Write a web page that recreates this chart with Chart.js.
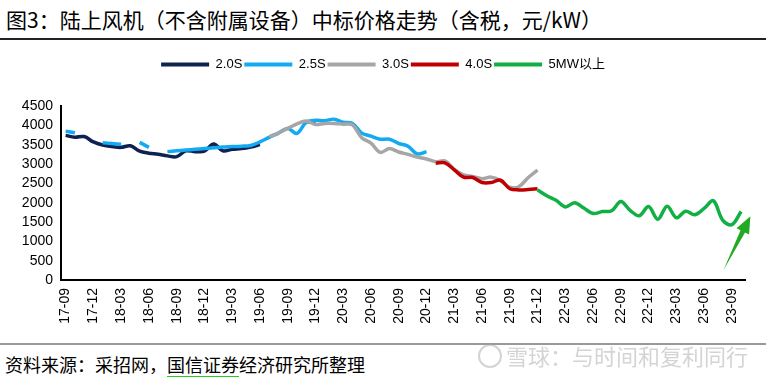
<!DOCTYPE html>
<html>
<head>
<meta charset="utf-8">
<script src="https://cdn.jsdelivr.net/npm/chart.js@4.4.1/dist/chart.umd.min.js"></script>
<style>
  body { margin: 0; width: 766px; height: 379px; background: #fff; position: relative; overflow: hidden; font-family: 'Noto Sans CJK SC', sans-serif; }
  #title { position: absolute; left: 6px; top: 5px; font-size: 21px; line-height: 28px; color: #000; white-space: nowrap; }
  #topline { position: absolute; left: 0; top: 38px; width: 766px; height: 2px; background: #222; }
  #wrap { position: absolute; left: 0; top: 45px; width: 766px; height: 295px; }
  #bottomline { position: absolute; left: 0; top: 343px; width: 766px; height: 2px; background: #999; }
  #source { position: absolute; left: 5px; top: 352px; font-size: 18px; line-height: 24px; color: #000; white-space: nowrap; }
  #source .sp { text-decoration: underline solid #22cc22; text-decoration-thickness: 1px; text-underline-offset: 4px; }
  #wm { position: absolute; left: 478px; top: 340px; font-size: 22px; line-height: 30px; color: rgba(170,170,170,0.5); white-space: nowrap; }
  #wm .logo { display: inline-block; width: 20px; height: 20px; border: 2px solid rgba(170,170,170,0.5); border-radius: 50%; vertical-align: -3px; margin-right: 4px; }
</style>
</head>
<body>
<div id="title">图3：陆上风机（不含附属设备）中标价格走势（含税，元/kW）</div>
<div id="topline"></div>
<div id="wrap"><canvas id="grafik" width="766" height="295"></canvas></div>
<div id="bottomline"></div>
<div id="wm"><span class="logo"></span>雪球：与时间和复利同行</div>
<div id="source">资料来源：采招网，<span class="sp">国信证券</span>经济研究所整理</div>
<script>
// 月份（17-09 ~ 23-10）
const months = [
  '17-09','17-10','17-11','17-12',
  '18-01','18-02','18-03','18-04','18-05','18-06','18-07','18-08','18-09','18-10','18-11','18-12',
  '19-01','19-02','19-03','19-04','19-05','19-06','19-07','19-08','19-09','19-10','19-11','19-12',
  '20-01','20-02','20-03','20-04','20-05','20-06','20-07','20-08','20-09','20-10','20-11','20-12',
  '21-01','21-02','21-03','21-04','21-05','21-06','21-07','21-08','21-09','21-10','21-11','21-12',
  '22-01','22-02','22-03','22-04','22-05','22-06','22-07','22-08','22-09','22-10','22-11','22-12',
  '23-01','23-02','23-03','23-04','23-05','23-06','23-07','23-08','23-09','23-10'
];

const seriesNames = ['2.0S', '2.5S', '3.0S', '4.0S', '5MW以上'];
const seriesColors = ['#0f2150', '#12aaf0', '#a6a6a6', '#c00000', '#10b045'];

const price20 = [
  3740, 3690, 3710, 3570, 3490, 3450, 3430, 3470, 3330, 3280, 3250, 3210, 3190, 3340, 3320, 3330,
  3520, 3340, 3380, 3400, 3440, 3500, null, null, null, null, 4090, 4100, null, null, null, null,
  null, null, null, null, null, null, null, null, null, null, null, null, null, null, null, null,
  null, null, null, null, null, null, null, null, null, null, null, null, null, null, null, null,
  null, null, null, null, null, null, null, null, null, null
];
const price25 = [
  3850, 3810, null, null, 3550, 3530, 3510, null, 3560, 3430, null, 3320, 3340, 3360, 3380, 3400,
  3420, 3440, 3450, 3460, 3480, 3570, 3690, 3800, 3920, 3790, 4080, 4130, 4120, 4160, 4080, 4050,
  3800, 3720, 3640, 3640, 3530, 3460, 3260, 3320, null, null, null, null, null, null, null, null,
  null, null, null, null, null, null, null, null, null, null, null, null, null, null, null, null,
  null, null, null, null, null, null, null, null, null, null
];
const price30 = [
  null, null, null, null, null, null, null, null, null, null, null, null, null, null, null, null,
  null, null, null, null, null, null, 3710, 3800, 3920, 4040, 4110, 4020, 4050, 4050, 4030, 4010,
  3680, 3540, 3300, 3400, 3310, 3250, 3180, 3130, 3060, 3080, 2860, 2720, 2680, 2620, 2660, 2570,
  2400, 2420, 2650, 2840, null, null, null, null, null, null, null, null, null, null, null, null,
  null, null, null, null, null, null, null, null, null, null
];
const price40 = [
  null, null, null, null, null, null, null, null, null, null, null, null, null, null, null, null,
  null, null, null, null, null, null, null, null, null, null, null, null, null, null, null, null,
  null, null, null, null, null, null, null, null, 3020, 3030, 2850, 2660, 2650, 2520, 2520, 2580,
  2360, 2330, 2340, 2360, null, null, null, null, null, null, null, null, null, null, null, null,
  null, null, null, null, null, null, null, null, null, null
];
const price5mw = [
  null, null, null, null, null, null, null, null, null, null, null, null, null, null, null, null,
  null, null, null, null, null, null, null, null, null, null, null, null, null, null, null, null,
  null, null, null, null, null, null, null, null, null, null, null, null, null, null, null, null,
  null, null, null, 2330, 2180, 2060, 1890, 2000, 1860, 1720, 1770, 1790, 2030, 1800, 1660, 1900,
  1570, 1910, 1610, 1780, 1690, 1850, 2050, 1550, 1430, 1770
];
const seriesData = [price20, price25, price30, price40, price5mw];

const yMin = 0, yMax = 4500, yStep = 500;
// 绿色箭头（类目序号, 数值）
const arrowFrom = [71.1, 260];
const arrowTo = [74.0, 1650];

const legendGap = {
  id: 'legendGap',
  beforeInit(chart) {
    const fit = chart.legend.fit;
    chart.legend.fit = function () {
      fit.call(this);
      this.height = 50;
    };
  }
};

const arrowPlugin = {
  id: 'arrow',
  afterDatasetsDraw(chart) {
    const x = chart.scales.x, y = chart.scales.y, ctx = chart.ctx;
    const x0 = x.getPixelForValue(arrowFrom[0]), y0 = y.getPixelForValue(arrowFrom[1]);
    const x1 = x.getPixelForValue(arrowTo[0]), y1 = y.getPixelForValue(arrowTo[1]);
    const len = Math.hypot(x1 - x0, y1 - y0);
    const dx = (x1 - x0) / len, dy = (y1 - y0) / len;
    const nx = -dy, ny = dx;
    const bx = x1 - dx * 17, by = y1 - dy * 17;
    ctx.save();
    ctx.fillStyle = '#22aa22';
    ctx.beginPath();
    ctx.moveTo(x0, y0);
    ctx.lineTo(bx + nx * 2.5, by + ny * 2.5);
    ctx.lineTo(bx + nx * 7, by + ny * 7);
    ctx.lineTo(x1, y1);
    ctx.lineTo(bx - nx * 7, by - ny * 7);
    ctx.lineTo(bx - nx * 2.5, by - ny * 2.5);
    ctx.closePath();
    ctx.fill();
    ctx.restore();
  }
};

const ctx = document.getElementById('grafik').getContext('2d');
new Chart(ctx, {
  type: 'line',
  data: {
    labels: months,
    datasets: seriesNames.map((name, i) => ({
      label: name,
      data: seriesData[i],
      borderColor: seriesColors[i],
      backgroundColor: seriesColors[i],
      borderWidth: 3.5,
      pointRadius: 0,
      tension: 0.35,
      spanGaps: false,
      order: seriesNames.length - i,
    })),
  },
  options: {
    responsive: false,
    animation: false,
    devicePixelRatio: 1,
    layout: { padding: { top: 11, left: 11, right: 11, bottom: 0 } },
    plugins: {
      tooltip: { enabled: false },
      legend: {
        position: 'top',
        labels: {
          boxWidth: 48,
          boxHeight: 4,
          padding: 2,
          color: '#000',
          font: { size: 13, family: "'Liberation Sans', 'Noto Sans CJK SC', sans-serif" },
          sort: (a, b) => a.datasetIndex - b.datasetIndex,
          generateLabels: (chart) => Chart.defaults.plugins.legend.labels.generateLabels(chart)
            .map(item => ({ ...item, lineWidth: 0 })),
        },
      },
    },
    scales: {
      x: {
        offset: true,
        grid: { display: false, drawTicks: false },
        border: { display: true, color: '#000', width: 2 },
        ticks: {
          autoSkip: false,
          maxRotation: 90,
          minRotation: 90,
          padding: 8,
          color: '#000',
          font: { size: 14, family: "'Liberation Sans', sans-serif" },
          callback: (value, index) => (index % 3 === 0 ? months[index] : ''),
        },
        afterFit: (scale) => { scale.height = 60; },
      },
      y: {
        min: yMin,
        max: yMax,
        grid: { display: false, drawTicks: false },
        border: { display: true, color: '#000', width: 2 },
        ticks: {
          stepSize: yStep,
          autoSkip: false,
          padding: 8,
          color: '#000',
          font: { size: 14, family: "'Liberation Sans', sans-serif" },
          callback: (value) => String(value),
        },
        afterFit: (scale) => { scale.width = 50; },
      },
    },
  },
  plugins: [legendGap, arrowPlugin],
});
</script>
</body>
</html>
